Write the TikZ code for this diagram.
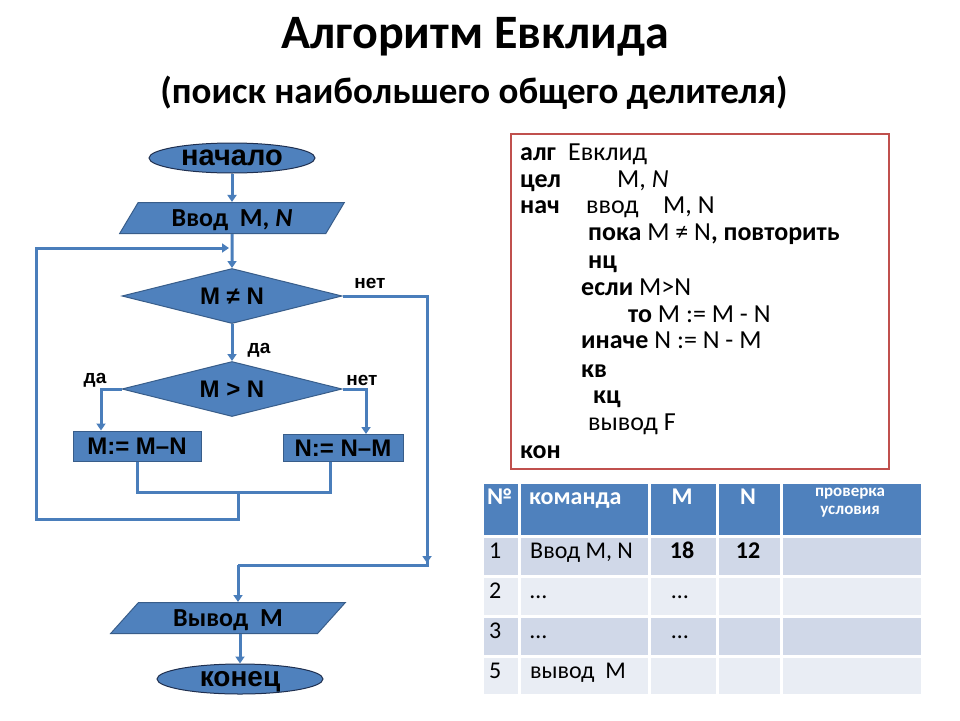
\documentclass[tikz,border=0pt]{standalone}
\usepackage{fontspec}
\setmainfont{Carlito}
\newfontfamily\arialf{Liberation Sans}
\usetikzlibrary{shapes.geometric,arrows.meta}
\definecolor{nodefill}{HTML}{4F81BD}
\definecolor{nodedraw}{HTML}{385D8A}
\definecolor{linec}{HTML}{4A7EBB}
\definecolor{boxred}{HTML}{C0504D}
\definecolor{rowA}{HTML}{D0D8E8}
\definecolor{rowB}{HTML}{E9EDF4}
\definecolor{termdraw}{HTML}{1F2F4F}
\begin{document}
\begin{tikzpicture}[x=1pt,y=-1pt,
  blk/.style={fill=nodefill, draw=nodedraw, line width=1pt, inner sep=0pt, text=black},
  term/.style={blk, ellipse, draw=termdraw, minimum width=166pt, minimum height=30pt, text height=15pt, text depth=0pt, font=\arialf\bfseries\fontsize{29}{29}\selectfont},
  io/.style={blk, trapezium, trapezium stretches=true, minimum height=31pt, text height=17pt, text depth=0pt, font=\bfseries\fontsize{26}{26}\selectfont},
  dec/.style={blk, diamond, shape aspect=4, minimum width=220pt, minimum height=55pt, text height=17pt, text depth=0pt, font=\arialf\bfseries\fontsize{24}{24}\selectfont},
  proc/.style={blk, rectangle, text height=17pt, text depth=0pt, font=\arialf\bfseries\fontsize{24}{24}\selectfont},
  conn/.style={draw=linec, line width=3pt},
  arr/.style={conn, -{Triangle[length=7pt,width=9pt]}},
  lbl/.style={font=\arialf\bfseries\fontsize{19}{19}\selectfont, inner sep=0pt},
  code/.style={anchor=base west, inner sep=0pt, font=\fontsize{26}{26}\selectfont},
  cell/.style={draw=white, line width=3pt, anchor=north west, inner sep=0pt},
  hd/.style={inner sep=0pt, text=white, font=\bfseries\fontsize{24}{24}\selectfont},
  td/.style={inner sep=0pt, font=\fontsize{24}{24}\selectfont},
]
\useasboundingbox (0,0) rectangle (960,720);

% titles
\node[anchor=base, inner sep=0pt, font=\bfseries\fontsize{48}{48}\selectfont] (title) at (475,48) {Алгоритм Евклида};
\node[anchor=base, inner sep=0pt, font=\bfseries\fontsize{37}{37}\selectfont] (subtitle) at (474,103) {(поиск наибольшего общего делителя)};

% flowchart nodes
\node[term] (start) at (232,158) {начало};
\node[io, trapezium left angle=55, trapezium right angle=125, minimum width=225pt] (in) at (232,218) {Ввод\ \ M, \textit{N}};
\node[dec] (c1) at (232,296) {M ≠ N};
\node[dec] (c2) at (232,389) {M > N};
\node[proc, minimum width=128pt, minimum height=30pt] (p1) at (137,446) {M:= M–N};
\node[proc, minimum width=120pt, minimum height=27pt] (p2) at (343,448) {N:= N–M};
\node[io, trapezium left angle=45, trapezium right angle=135, minimum width=235pt] (out) at (228,618) {Вывод\ \ M};
\node[term, font=\arialf\bfseries\fontsize{28}{28}\selectfont] (end) at (240,679) {конец};

% labels
\node[lbl] (l1) at (370,283) {нет};
\node[lbl] (l2) at (259,350) {да};
\node[lbl] (l3) at (95,380) {да};
\node[lbl] (l4) at (362,380) {нет};

% coordinates
\coordinate (bl) at (101,389);
\coordinate (br) at (366,389);
\coordinate (m1) at (137,492);
\coordinate (m2) at (330,492);
\coordinate (m) at (238,492);
\coordinate (lb) at (238,519);
\coordinate (ll) at (36,519);
\coordinate (lt) at (36,248);
\coordinate (le) at (229,248);
\coordinate (r1) at (427,296);
\coordinate (r2) at (427,565);
\coordinate (r3) at (238,565);
\coordinate (ra) at (427,540);
\coordinate (rb) at (427,563);

% connectors
\draw[arr] (start.south) -- (start.south |- in.north);
\draw[arr] (in.south) -- (c1.north);
\draw[arr] (c1.south) -- (c2.north);
\draw[arr] (c2.west) -- (bl) -- (bl |- p1.north);
\draw[arr] (c2.east) -- (br) -- (br |- p2.north);
\draw[conn] (m1 |- p1.south) -- (m1) -- (m2) -- (m2 |- p2.south);
\draw[arr] (m) -- (lb) -- (ll) -- (lt) -- (le);
\draw[conn] (c1.east) -- (r1) -- (r2) -- (r3);
\draw[arr] (ra) -- (rb);
\draw[arr] (r3) -- (r3 |- out.north);
\draw[arr] (out.south -| end.north) -- (end.north);

% code box
\node[draw=boxred, line width=2pt, minimum width=378pt, minimum height=335pt, anchor=north west, inner sep=0pt] (codebox) at (510,133) {};
\node[code] (k1) at (520,160) {\textbf{алг}};
\node[code] (k1b) at (568,160) {Евклид};
\node[code] (k2) at (520,187) {\textbf{цел}};
\node[code] (k2b) at (617,187) {M, \textit{N}};
\node[code] (k3) at (520,213) {\textbf{нач}};
\node[code] (k3b) at (586,213) {ввод};
\node[code] (k3c) at (663,213) {M, N};
\node[code] (k4) at (588,240) {\textbf{пока} M ≠ N\textbf{, повторить}};
\node[code] (k5) at (588,268) {\textbf{нц}};
\node[code] (k6) at (581,295) {\textbf{если} M>N};
\node[code] (k7) at (628,322) {\textbf{то} M := M - N};
\node[code] (k8) at (581,348) {\textbf{иначе} N := N - M};
\node[code] (k9) at (581,377) {\textbf{кв}};
\node[code] (k10) at (593,403) {\textbf{кц}};
\node[code] (k11) at (588,430) {вывод F};
\node[code] (k12) at (520,458) {\textbf{кон}};

% table cells
\foreach \xa/\xb/\c in {481/518/a,518/648/b,648/716/c,716/780/d,780/921/e}{
  \node[cell, fill=nodefill, minimum width=\xb-\xa, minimum height=53.5] (h\c) at (\xa,481) {};
  \node[cell, fill=rowA, minimum width=\xb-\xa, minimum height=40] (ra\c) at (\xa,534.5) {};
  \node[cell, fill=rowB, minimum width=\xb-\xa, minimum height=40] (rb\c) at (\xa,574.5) {};
  \node[cell, fill=rowA, minimum width=\xb-\xa, minimum height=40] (rc\c) at (\xa,614.5) {};
  \node[cell, fill=rowB, minimum width=\xb-\xa, minimum height=39.5] (rd\c) at (\xa,654.5) {};
}
% header text
\node[hd, anchor=base west] (t1) at (487,504) {№};
\node[hd, anchor=base west] (t2) at (529,504) {команда};
\node[hd, anchor=base] (t3) at (682,504) {M};
\node[hd, anchor=base] (t4) at (748,504) {N};
\node[hd, align=center, font=\bfseries\fontsize{17}{18}\selectfont] (t5) at (850,503) {проверка\\условия};
% body text
\node[td, anchor=base west] (u1) at (489,558) {1};
\node[td, anchor=base west] (u2) at (530,558) {Ввод M, N};
\node[td, anchor=base, font=\bfseries\fontsize{24}{24}\selectfont] (u3) at (682,558) {18};
\node[td, anchor=base, font=\bfseries\fontsize{24}{24}\selectfont] (u4) at (748,558) {12};
\node[td, anchor=base west] (v1) at (489,598) {2};
\node[td, anchor=base west] (v2) at (530,598) {…};
\node[td, anchor=base] (v3) at (680,598) {…};
\node[td, anchor=base west] (w1) at (489,638) {3};
\node[td, anchor=base west] (w2) at (530,638) {…};
\node[td, anchor=base] (w3) at (680,638) {…};
\node[td, anchor=base west] (x1) at (489,678) {5};
\node[td, anchor=base west] (x2) at (530,678) {вывод\ \ M};
\end{tikzpicture}
\end{document}
